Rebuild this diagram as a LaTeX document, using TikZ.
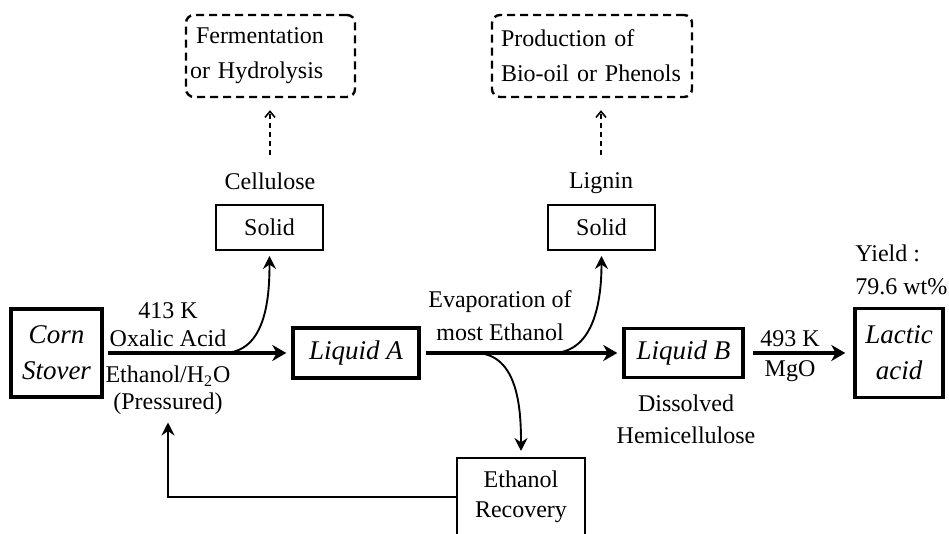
\documentclass[tikz,border=0pt]{standalone}
\usepackage{fontspec}
\setmainfont{Liberation Serif}
\usepackage{tikz}
\usetikzlibrary{arrows.meta}

\newcommand{\lblfont}{\fontsize{12}{15}\selectfont}
\newcommand{\boxfont}{\fontsize{13.5}{18}\selectfont\itshape}

\tikzset{
    mainbox/.style={draw, line width=1.7pt, font=\boxfont, align=center, inner sep=0pt},
    solidbox/.style={draw, line width=1pt, font=\lblfont, align=center, inner sep=0pt},
    dashbox/.style={draw, line width=1.2pt, dash pattern=on 4pt off 2.5pt, rounded corners=4pt,
        font=\fontsize{12}{17.5}\selectfont, align=left, inner ysep=0pt, minimum height=41pt},
    lbl/.style={font=\lblfont, inner sep=0pt, anchor=base},
    mainarrow/.style={line width=1.8pt, -{Stealth[length=7pt,width=8pt,inset=2.2pt]}},
    sidearrow/.style={line width=0.95pt, -{Stealth[length=6.5pt,width=6.5pt,inset=2.2pt]}},
    dasharrow/.style={line width=0.8pt, dash pattern=on 2.5pt off 2pt, -{Straight Barb[length=3pt,width=5pt]}}
}

\begin{document}
\begin{tikzpicture}[x=0.5pt, y=0.5pt]
                \clip (0,0) rectangle (949,534);

                \node[mainbox, minimum width=45.5pt, minimum height=44pt] (stover) at (56.5,181) {Corn\\Stover};
                \node[mainbox, minimum width=63pt, minimum height=25pt] (liqA) at (356,181) {Liquid A};
                \node[mainbox, minimum width=59.5pt, minimum height=24.5pt] (liqB) at (683.5,181) {Liquid B};
                \node[mainbox, minimum width=44pt, minimum height=44.5pt] (lactic) at (899,181) {Lactic\\acid};

                \node[solidbox, minimum width=53.5pt, minimum height=22.5pt] (solid1) at (269.5,306.5) {Solid};
                \node[solidbox, minimum width=53.5pt, minimum height=22.5pt] (solid2) at (601.5,306.5) {Solid};
                \node[solidbox, minimum width=64pt, minimum height=39pt] (recov) at (521,37) {Ethanol\\Recovery};

                \node[dashbox, text width=80.5pt, inner xsep=2pt] (ferm) at (270.5,478) {\hspace{3pt}Fermentation\\or Hydrolysis};
                \node[dashbox, text width=91pt, inner xsep=4.5pt] (prod) at (592,478) {Production of\\Bio-oil or Phenols};

                \node[lbl] (cell) at (270,344) {Cellulose};
                \node[lbl] (lig) at (601,345) {Lignin};

                \node[lbl] (k413) at (168,215) {413 K};
                \node[lbl] (oxa) at (168,187) {Oxalic Acid};
                \node[lbl] (etoh) at (168,151) {Ethanol/H\textsubscript{2}O};
                \node[lbl] (pres) at (168,124) {(Pressured)};

                \node[lbl] (evap) at (500,226) {Evaporation of};
                \node[lbl] (most) at (500,193) {most Ethanol};

                \node[lbl] (k493) at (790,187) {493 K};
                \node[lbl] (mgo) at (790,157) {MgO};

                \node[lbl] (diss) at (686,122) {Dissolved};
                \node[lbl] (hemi) at (686,90) {Hemicellulose};

                \node[lbl, anchor=base west] (yield) at (855,272) {Yield :};
                \node[lbl, anchor=base west] (wt) at (855,239) {79.6 wt\%};

                \coordinate (s1) at (223,181);
                \coordinate (s2) at (552,181);
                \coordinate (s3) at (475,181);

                \draw[mainarrow, shorten <=2pt, shorten >=2.5pt] (stover) -- (liqA);
                \draw[mainarrow, shorten <=2.5pt, shorten >=2.5pt] (liqA) -- (liqB);
                \draw[mainarrow, shorten <=4pt, shorten >=4pt] (liqB) -- (lactic);

                \draw[sidearrow, shorten >=2.5pt] (s1) to[out=0, in=-90] (solid1.south);
                \draw[sidearrow, shorten >=2.5pt] (s2) to[out=0, in=-90] (solid2.south);
                \draw[sidearrow, shorten >=3pt] (s3) to[out=0, in=90] (recov.north);
                \draw[sidearrow, shorten >=3.5pt] (recov.west) -| (pres.south);

                \draw[dasharrow, shorten <=9pt, shorten >=6pt] (cell.north) -- (cell.north |- ferm.south);
                \draw[dasharrow, shorten <=9pt, shorten >=6pt] (lig.north) -- (lig.north |- prod.south);
            \end{tikzpicture}
\end{document}
